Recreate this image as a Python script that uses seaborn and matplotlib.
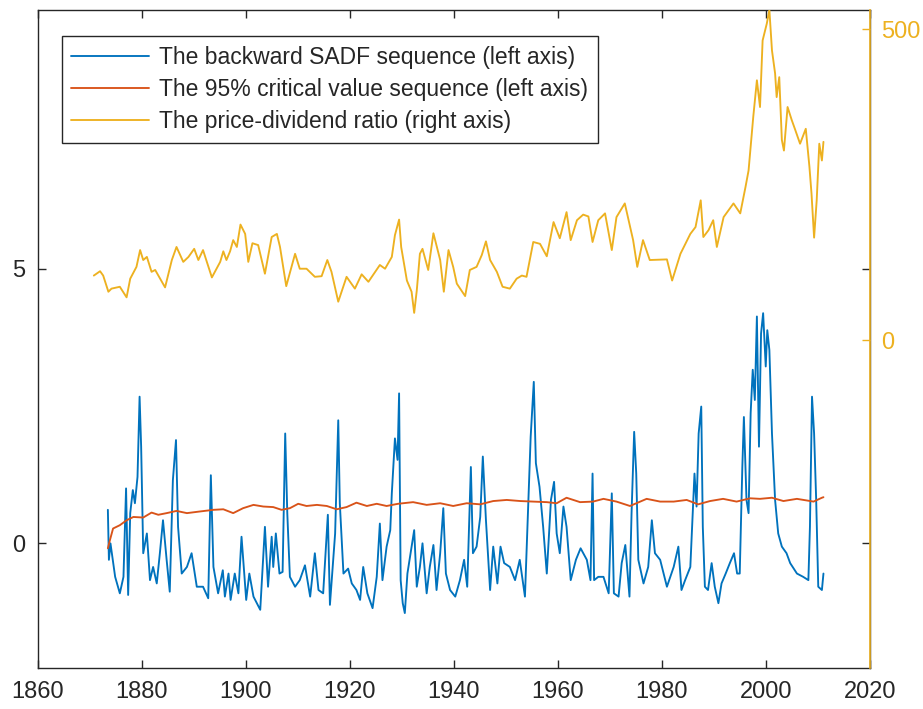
import matplotlib
matplotlib.use("Agg")
import matplotlib.pyplot as plt
import seaborn as sns
import pandas as pd

# ---------------- data ----------------
sadf_years = [1873.5, 1873.7, 1874.0, 1874.9, 1875.8, 1876.5, 1877.0, 1877.4, 1877.8, 1878.3,
              1878.7, 1879.2, 1879.6, 1879.9, 1880.3, 1881.0, 1881.6, 1882.2, 1882.9, 1883.5,
              1884.1, 1884.8, 1885.4, 1886.0, 1886.6, 1887.0, 1887.7, 1888.7, 1889.6, 1890.6,
              1891.8, 1892.8, 1893.3, 1893.8, 1894.7, 1895.6, 1896.0, 1896.7, 1897.1, 1897.9,
              1898.6, 1899.2, 1900.1, 1900.7, 1901.5, 1902.8, 1903.7, 1904.3, 1905.0, 1905.3,
              1905.8, 1906.5, 1907.1, 1907.6, 1908.0, 1908.5, 1909.5, 1910.4, 1911.4, 1912.4,
              1913.3, 1914.0, 1914.9, 1915.8, 1916.2, 1917.2, 1917.8, 1918.1, 1918.8, 1919.7,
              1920.4, 1921.3, 1922.0, 1922.6, 1923.4, 1924.4, 1925.2, 1925.8, 1926.3, 1927.1,
              1927.8, 1928.1, 1928.7, 1929.2, 1929.5, 1929.8, 1930.2, 1930.6, 1931.1, 1931.9,
              1932.4, 1932.9, 1933.5, 1934.0, 1934.8, 1935.4, 1936.1, 1936.7, 1937.4, 1938.0,
              1938.5, 1939.3, 1940.3, 1941.2, 1942.0, 1942.6, 1943.3, 1943.7, 1944.4, 1945.1,
              1945.6, 1946.2, 1947.0, 1947.6, 1948.4, 1949.0, 1949.7, 1950.8, 1951.8, 1952.7,
              1953.7, 1954.3, 1954.8, 1955.4, 1955.8, 1956.5, 1957.2, 1957.9, 1958.7, 1959.3,
              1959.8, 1960.4, 1961.1, 1961.7, 1962.5, 1963.5, 1964.4, 1965.6, 1966.3, 1966.7,
              1967.0, 1967.8, 1968.8, 1969.8, 1970.4, 1970.8, 1971.7, 1972.3, 1973.0, 1973.8,
              1974.2, 1974.7, 1975.1, 1975.5, 1976.5, 1977.4, 1978.1, 1978.7, 1979.7, 1981.0,
              1982.3, 1983.2, 1983.8, 1984.5, 1985.5, 1986.3, 1986.7, 1987.1, 1987.6, 1987.9,
              1988.3, 1988.9, 1989.6, 1990.2, 1990.9, 1991.5, 1992.3, 1993.1, 1993.9, 1994.5,
              1995.0, 1995.5, 1995.8, 1996.3, 1996.7, 1997.1, 1997.5, 1997.9, 1998.3, 1998.7,
              1999.1, 1999.5, 2000.0, 2000.3, 2000.7, 2001.2, 2001.8, 2002.4, 2003.1, 2004.0,
              2004.7, 2006.0, 2007.2, 2008.2, 2008.5, 2008.9, 2009.3, 2009.7, 2010.1, 2010.8,
              2011.1]
sadf_values = [0.61, -0.30, 0.00, -0.61, -0.91, -0.61, 1.00, -0.94, 0.55, 0.97,
               0.73, 1.21, 2.67, 1.76, -0.18, 0.18, -0.67, -0.43, -0.73, -0.18,
               0.42, -0.30, -0.88, 1.15, 1.88, 0.30, -0.55, -0.43, -0.18, -0.79,
               -0.79, -1.00, 1.24, -0.43, -0.91, -0.49, -0.97, -0.55, -1.03, -0.55,
               -0.91, 0.12, -1.03, -0.55, -0.97, -1.21, 0.30, -0.79, 0.12, -0.43,
               0.18, -0.55, -0.52, 2.00, 0.55, -0.61, -0.79, -0.67, -0.40, -0.97,
               -0.18, -0.85, -0.91, 0.52, -1.12, 0.18, 2.24, 0.73, -0.55, -0.46,
               -0.73, -0.85, -1.03, -0.43, -0.91, -1.18, -0.61, 0.36, -0.67, -0.06,
               0.24, 0.91, 1.91, 1.52, 2.73, -0.67, -1.09, -1.27, -0.55, -0.06,
               0.24, -0.79, -0.43, 0.00, -0.91, -0.43, -0.03, -0.85, -0.18, 0.64,
               -0.55, -0.85, -0.97, -0.67, -0.30, -0.79, 1.39, -0.18, -0.06, 0.48,
               1.58, 0.42, -0.85, -0.06, -0.73, -0.06, -0.36, -0.43, -0.67, -0.30,
               -0.97, 0.61, 1.94, 2.94, 1.46, 1.03, 0.30, -0.55, 0.79, 1.12,
               0.18, -0.18, 0.67, 0.30, -0.67, -0.30, -0.09, -0.30, -0.67, 1.27,
               -0.67, -0.61, -0.61, -0.91, 0.91, -0.91, -0.97, -0.36, -0.03, -0.97,
               0.55, 2.03, 1.27, -0.30, -0.73, -0.43, 0.42, -0.18, -0.30, -0.79,
               -0.43, -0.06, -0.85, -0.67, -0.43, 1.27, 0.67, 2.00, 2.49, 0.30,
               -0.79, -0.85, -0.36, -0.79, -1.09, -0.73, -0.55, -0.36, -0.18, -0.55,
               -0.55, 1.39, 2.30, 0.79, 0.55, 2.37, 3.16, 2.61, 4.13, 1.76,
               3.82, 4.19, 3.22, 3.88, 3.52, 2.00, 0.79, 0.18, -0.06, -0.18,
               -0.36, -0.55, -0.61, -0.67, 0.30, 2.67, 2.00, 0.79, -0.79, -0.85,
               -0.55]

cv_years = [1873.5, 1873.9, 1874.5, 1875.8, 1877.1, 1878.4, 1880.3, 1881.9, 1883.2, 1884.8,
            1886.7, 1888.7, 1891.2, 1893.8, 1895.7, 1897.6, 1899.5, 1901.5, 1903.4, 1905.3,
            1906.9, 1908.5, 1910.1, 1911.7, 1913.7, 1915.6, 1917.5, 1919.4, 1921.3, 1923.3,
            1925.2, 1927.1, 1929.3, 1932.2, 1934.8, 1937.4, 1939.9, 1942.5, 1945.1, 1947.6,
            1950.2, 1952.8, 1955.3, 1957.9, 1959.8, 1961.7, 1964.3, 1966.8, 1968.8, 1971.3,
            1973.9, 1977.1, 1979.7, 1982.3, 1984.8, 1987.0, 1989.3, 1991.8, 1994.4, 1997.0,
            1998.9, 2001.2, 2003.4, 2006.0, 2009.2, 2010.8, 2011.1]
cv_values = [-0.09, 0.06, 0.27, 0.33, 0.42, 0.48, 0.47, 0.56, 0.52, 0.55,
             0.59, 0.55, 0.58, 0.61, 0.62, 0.55, 0.64, 0.70, 0.67, 0.66,
             0.61, 0.64, 0.72, 0.68, 0.70, 0.68, 0.62, 0.66, 0.74, 0.68,
             0.72, 0.68, 0.72, 0.75, 0.70, 0.73, 0.68, 0.73, 0.71, 0.77,
             0.79, 0.77, 0.76, 0.75, 0.73, 0.83, 0.75, 0.76, 0.81, 0.76,
             0.68, 0.81, 0.76, 0.76, 0.79, 0.71, 0.77, 0.81, 0.76, 0.82,
             0.81, 0.83, 0.77, 0.81, 0.76, 0.83, 0.84]

pd_years = [1870.8, 1872.0, 1872.6, 1873.6, 1874.2, 1875.8, 1877.1, 1877.8, 1879.0, 1879.7,
            1880.3, 1881.0, 1881.9, 1882.6, 1884.5, 1885.8, 1886.7, 1888.0, 1889.0, 1890.1,
            1890.9, 1891.8, 1893.5, 1895.1, 1895.7, 1896.3, 1897.0, 1897.6, 1898.3, 1899.0,
            1899.9, 1900.5, 1901.3, 1902.4, 1903.7, 1905.0, 1906.0, 1906.6, 1907.8, 1909.5,
            1910.4, 1911.7, 1913.3, 1914.6, 1915.7, 1916.5, 1917.8, 1919.4, 1921.0, 1922.3,
            1923.6, 1924.9, 1925.8, 1926.8, 1928.1, 1928.7, 1929.5, 1929.9, 1931.0, 1931.9,
            1932.4, 1932.9, 1933.5, 1934.0, 1935.1, 1936.1, 1937.4, 1938.1, 1939.0, 1939.9,
            1940.6, 1942.2, 1943.1, 1944.4, 1945.4, 1946.2, 1947.0, 1948.3, 1949.4, 1950.8,
            1952.1, 1953.1, 1954.0, 1955.3, 1956.6, 1957.9, 1959.2, 1960.4, 1961.7, 1962.5,
            1963.7, 1964.9, 1965.9, 1966.7, 1967.8, 1969.1, 1970.4, 1971.3, 1972.9, 1974.5,
            1975.3, 1976.4, 1977.7, 1981.0, 1982.0, 1983.6, 1985.5, 1986.5, 1987.5, 1988.0,
            1989.0, 1989.9, 1990.6, 1991.9, 1993.8, 1995.1, 1996.1, 1996.7, 1997.6, 1998.3,
            1998.9, 1999.4, 2000.2, 2000.7, 2001.2, 2001.8, 2002.1, 2002.6, 2003.1, 2003.5,
            2004.2, 2005.0, 2005.6, 2006.6, 2007.7, 2008.4, 2008.8, 2009.3, 2009.8, 2010.3,
            2010.8, 2011.1]
pd_values = [104, 111, 104, 78, 83, 86, 69, 99, 118, 145,
             129, 134, 110, 113, 85, 129, 150, 126, 134, 147,
             129, 145, 101, 126, 143, 129, 143, 161, 150, 186,
             171, 126, 156, 153, 107, 166, 171, 150, 87, 139,
             115, 115, 102, 103, 129, 110, 62, 102, 83, 106,
             94, 110, 121, 115, 134, 169, 194, 150, 96, 78,
             44, 80, 139, 147, 113, 172, 129, 78, 145, 118,
             91, 71, 113, 118, 137, 159, 129, 110, 86, 83,
             99, 104, 102, 158, 155, 135, 190, 164, 206, 161,
             193, 202, 199, 158, 193, 204, 145, 198, 220, 161,
             118, 161, 129, 130, 96, 139, 171, 182, 225, 166,
             177, 193, 150, 198, 220, 204, 246, 273, 359, 418,
             375, 482, 509, 531, 466, 429, 391, 423, 322, 305,
             375, 354, 340, 316, 340, 279, 236, 165, 225, 316,
             289, 319]

series_labels = ["The backward SADF sequence (left axis)",
                 "The 95% critical value sequence (left axis)",
                 "The price-dividend ratio (right axis)"]
x_ticks = [1860, 1880, 1900, 1920, 1940, 1960, 1980, 2000, 2020]
left_ticks = [0, 5]
right_ticks = [0, 500]

BLUE, RED, YELLOW = "#0072BD", "#D95319", "#EDB120"
DARK = "#262626"

# ---------------- plotting ----------------
sns.set_style("white")
plt.rcParams['font.family'] = ['Liberation Sans', 'DejaVu Sans']
plt.rcParams['font.size'] = 17

fig = plt.figure(figsize=(9.23, 7.09), dpi=100)
ax = fig.add_axes([0.0408, 0.0578, 0.9015, 0.9281])
ax2 = ax.twinx()

sadf_df = pd.DataFrame({"year": sadf_years, "value": sadf_values})
cv_df = pd.DataFrame({"year": cv_years, "value": cv_values})
pd_df = pd.DataFrame({"year": pd_years, "value": pd_values})

sns.lineplot(data=sadf_df, x="year", y="value", ax=ax, color=BLUE, lw=1.35,
             sort=False, estimator=None, label=series_labels[0])
sns.lineplot(data=cv_df, x="year", y="value", ax=ax, color=RED, lw=1.35,
             sort=False, estimator=None, label=series_labels[1])
sns.lineplot(data=pd_df, x="year", y="value", ax=ax2, color=YELLOW, lw=1.35,
             sort=False, estimator=None, label=series_labels[2])

ax.set_xlim(1860, 2020)
ax.set_ylim(-2.27, 9.71)
ax2.set_ylim(-527, 531)
ax.set_xticks(x_ticks)
ax.set_yticks(left_ticks)
ax2.set_yticks(right_ticks)
ax.set_xlabel("")
ax.set_ylabel("")
ax2.set_ylabel("")

for s in ["left", "top", "bottom", "right"]:
    ax.spines[s].set_color(DARK)
    ax.spines[s].set_linewidth(1.0)
ax2.spines["right"].set_color(YELLOW)
ax2.spines["right"].set_linewidth(1.2)
for s in ["left", "top", "bottom"]:
    ax2.spines[s].set_visible(False)

ax.tick_params(axis="x", direction="in", length=6, width=1, color=DARK,
               labelcolor=DARK, top=True, bottom=True, pad=9, labelsize=17)
ax.tick_params(axis="y", direction="in", length=6, width=1, color=DARK,
               labelcolor=DARK, left=True, right=True, pad=9, labelsize=17)
ax2.tick_params(axis="y", direction="in", length=6, width=1, color=YELLOW,
                labelcolor=YELLOW, pad=8, labelsize=17, left=False)

h1, l1 = ax.get_legend_handles_labels()
h2, l2 = ax2.get_legend_handles_labels()
if ax.get_legend() is not None:
    ax.get_legend().remove()
if ax2.get_legend() is not None:
    ax2.get_legend().remove()
leg = ax2.legend(h1 + h2, l1 + l2, loc="upper left", bbox_to_anchor=(0.0288, 0.9605),
                 borderaxespad=0, frameon=True, fancybox=False, fontsize=16.5,
                 handlelength=3.4, handletextpad=0.45, labelspacing=0.4, borderpad=0.42)
leg.get_frame().set_edgecolor(DARK)
leg.get_frame().set_linewidth(1.0)
leg.get_frame().set_facecolor("white")
leg.get_frame().set_alpha(1.0)
for t in leg.get_texts():
    t.set_color(DARK)

fig.savefig("out.png", dpi=100)
